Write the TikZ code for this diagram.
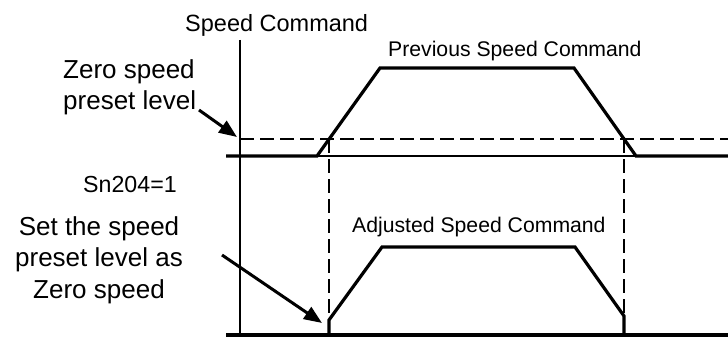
\documentclass[tikz,border=0pt]{standalone}
\usepackage{fontspec}
\setmainfont{Liberation Sans}
\usetikzlibrary{arrows.meta}
\begin{document}
\begin{tikzpicture}[x=1pt,y=1pt,
  axisline/.style={line width=1.5pt},
  sig/.style={line width=3.2pt, line join=miter},
  lvl/.style={line width=2.8pt, dash pattern=on 14pt off 6pt},
  ptr/.style={line width=3pt, -{Triangle[length=18pt,width=14pt]}},
  lbl/.style={inner sep=0pt, anchor=base west},
  ctr/.style={inner sep=0pt, anchor=base},
  bigf/.style={font=\fontsize{26}{31}\selectfont},
  midf/.style={font=\fontsize{21.2}{25}\selectfont},
]
\useasboundingbox (0,0) rectangle (728,338);
% axes
\draw[axisline] (240,298) -- (240,3);
\draw[axisline] (226,182) -- (728,182);
% zero speed preset level
\draw[lvl] (240,199) -- (728,199);
\draw[lvl] (329,199) -- (329,18);
\draw[lvl] (624,199) -- (624,21);
% previous speed command
\draw[sig] (226,182) -- (317,182) -- (380,270) -- (574,270) -- (636,182) -- (728,182);
% adjusted speed command
\draw[sig] (226,3) -- (728,3);
\draw[sig] (329,3) -- (329,18) -- (382,91) -- (575,91) -- (624,22) -- (624,3);
% labels
\node[lbl, font=\fontsize{23.5}{28}\selectfont] (title) at (185,306) {Speed Command};
\node[lbl, midf] (prev) at (388,281) {Previous Speed Command};
\node[lbl, midf] (adj) at (352,106) {Adjusted Speed Command};
\node[lbl, bigf] (zero1) at (63,259) {Zero speed};
\node[lbl, bigf] (zero2) at (63,228) {preset level};
\node[lbl, font=\fontsize{23.2}{27}\selectfont] (sn) at (83,146) {Sn204=1};
\node[ctr, bigf] (set1) at (99,103) {Set the speed};
\node[ctr, bigf] (set2) at (99,71.5) {preset level as};
\node[ctr, bigf] (set3) at (99,40) {Zero speed};
% arrows
\coordinate (a1) at (199,228);
\coordinate (t1) at (237,201);
\coordinate (a2) at (222,83);
\coordinate (t2) at (322,15);
\draw[ptr] (a1) -- (t1);
\draw[ptr] (a2) -- (t2);
\end{tikzpicture}
\end{document}
